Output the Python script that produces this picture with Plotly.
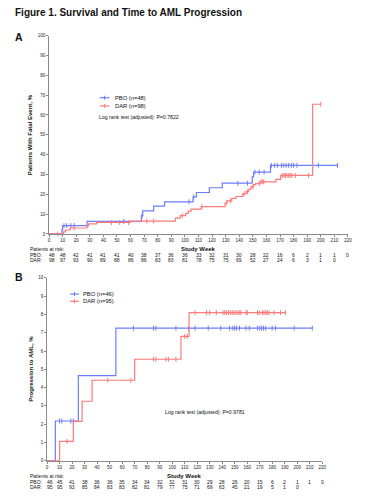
import plotly.graph_objects as go

W, H = 371, 500
FONT = "Liberation Sans"
BLUE = "#6e7cff"
RED = "#ff7a7a"
AXC = "#8a8a8a"

# ---------------- Panel A data ----------------
week_ticks = list(range(0, 221, 10))
a_pbo_event_weeks = [0, 9.5, 10, 28, 68, 69, 77, 85, 106, 108.5, 118, 127.5, 149.5, 150.5, 163]
a_pbo_event_pct = [0, 2.1, 4.2, 6.3, 9.2, 11.6, 14.0, 16.2, 18.7, 20.9, 23.3, 25.6, 28.8, 31.2, 34.6]
a_pbo_last_week = 212.3
a_pbo_censor_weeks = [11, 13, 16, 18.5, 55, 68.5, 103, 106.5, 139, 146, 151.5, 154.7, 158.3,
                      163.6, 166, 168, 171.1, 172.8, 174.5, 176.4, 178.3, 180, 182.5, 198.2, 212.3]

a_dar_event_weeks = [0, 10.5, 12, 15.5, 28, 29, 35, 60, 93, 96.5, 100.5, 102.5, 104.5, 112,
                     129.5, 131, 134.5, 137.5, 142.5, 145, 147, 148.5, 150.5, 152, 155, 167, 170.5, 194]
a_dar_event_pct = [0, 1.0, 2.0, 3.0, 4.1, 5.1, 5.8, 6.5, 8.0, 9.2, 10.4, 11.5, 12.5, 13.8,
                   15.6, 16.7, 17.9, 18.9, 20.2, 21.3, 22.5, 23.7, 24.9, 25.4, 26.3, 27.5, 29.5, 65.4]
a_dar_last_week = 200
a_dar_censor_weeks = [6.5, 18.5, 46, 52, 58.5, 72, 77, 98, 112.5, 130.5, 133.5, 143.5, 146, 150,
                      154.7, 156, 157, 158, 171.6, 172.8, 174, 175.2, 176.4, 177.6, 178.8, 181.3, 191, 200]

a_pbo_at_risk = [48, 48, 42, 41, 41, 41, 40, 38, 37, 36, 36, 33, 32, 31, 30, 28, 22, 16, 6, 2, 1, 1, 0]
a_dar_at_risk = [98, 97, 93, 90, 89, 88, 86, 86, 83, 83, 81, 78, 75, 75, 69, 52, 27, 24, 6, 3, 1, 0]

# ---------------- Panel B data ----------------
b_pbo_event_weeks = [0, 6.6, 25, 55]
b_pbo_event_pct = [0, 2.17, 4.65, 7.25]
b_pbo_last_week = 212
b_pbo_censor_weeks = [10, 11.8, 19, 21, 69, 85, 87, 103, 113, 118.3, 128.8, 138.8, 145.9, 148.5,
                      150, 151.5, 153.8, 159, 161.6, 168.2, 170, 171.5, 173, 174.7, 179.9, 182.6,
                      197.5, 212]

b_dar_event_weeks = [0, 10, 21, 28, 36, 70, 107, 113.5]
b_dar_event_pct = [0, 1.05, 2.15, 3.25, 4.4, 5.55, 6.8, 8.1]
b_dar_last_week = 190.5
b_dar_censor_weeks = [16, 48.5, 67, 85, 87, 95, 97, 103, 110, 112, 118.3, 127.5, 130, 135.3,
                      140.6, 142, 143.5, 145, 146.5, 148, 149.5, 151, 152.5, 154, 155, 159, 160.3,
                      168.2, 169.6, 172, 173.3, 174.7, 176, 177.4, 181.4, 186.6, 190.5]

b_pbo_at_risk = [46, 45, 41, 38, 36, 36, 35, 34, 34, 32, 32, 31, 30, 29, 28, 26, 20, 15, 6, 2, 1, 1, 0]
b_dar_at_risk = [95, 95, 93, 85, 84, 83, 83, 82, 81, 79, 77, 75, 71, 69, 63, 45, 21, 19, 5, 1, 0]


def step_val(ev_w, ev_p, t):
    v = 0
    for w, p in zip(ev_w, ev_p):
        if w <= t:
            v = p
    return v


def px(x):
    return x / W


def py(y):
    return 1 - y / H


fig = go.Figure()


def add_km(ev_w, ev_p, last_w, cens_w, color, xa, ya):
    fig.add_trace(go.Scatter(
        x=ev_w + [last_w], y=ev_p + [ev_p[-1]], mode="lines",
        line=dict(color=color, width=1.2, shape="hv"),
        xaxis=xa, yaxis=ya, showlegend=False, hoverinfo="skip"))
    fig.add_trace(go.Scatter(
        x=cens_w, y=[step_val(ev_w, ev_p, t) for t in cens_w], mode="markers",
        marker=dict(symbol="line-ns", size=3.5, line=dict(color=color, width=1)),
        xaxis=xa, yaxis=ya, showlegend=False, hoverinfo="skip", cliponaxis=False))


add_km(a_pbo_event_weeks, a_pbo_event_pct, a_pbo_last_week, a_pbo_censor_weeks, BLUE, "x", "y")
add_km(a_dar_event_weeks, a_dar_event_pct, a_dar_last_week, a_dar_censor_weeks, RED, "x", "y")
add_km(b_pbo_event_weeks, b_pbo_event_pct, b_pbo_last_week, b_pbo_censor_weeks, BLUE, "x2", "y2")
add_km(b_dar_event_weeks, b_dar_event_pct, b_dar_last_week, b_dar_censor_weeks, RED, "x2", "y2")

axis_common = dict(showgrid=False, zeroline=False, showline=True, linecolor=AXC, linewidth=1,
                   ticks="outside", ticklen=2, tickcolor=AXC, tickwidth=1,
                   tickfont=dict(family=FONT, size=4.5, color="#222"), tickangle=0, fixedrange=True)

fig.update_layout(
    width=W, height=H, margin=dict(l=0, r=0, t=0, b=0),
    paper_bgcolor="white", plot_bgcolor="white", showlegend=False,
    xaxis=dict(domain=[px(48.7), px(351.7)], range=[0, 220], tickvals=week_ticks, anchor="y", **axis_common),
    yaxis=dict(domain=[py(234.3), py(34)], range=[0, 100], tickvals=list(range(0, 101, 10)), anchor="x", **axis_common),
    xaxis2=dict(domain=[px(46.7), px(325.7)], range=[0, 220], tickvals=week_ticks, anchor="y2", **axis_common),
    yaxis2=dict(domain=[py(463.3), py(278.7)], range=[0, 10], tickvals=list(range(0, 11)), anchor="x2", **axis_common),
)

ann = []


def txt(x, y, s, size=5, bold=False, xanchor="left", angle=0, color="#111"):
    ann.append(dict(x=px(x), y=py(y), xref="paper", yref="paper", text=("<b>%s</b>" % s) if bold else s,
                    showarrow=False, xanchor=xanchor, yanchor="middle", textangle=angle, borderpad=0,
                    font=dict(family=FONT, size=size, color=color)))


txt(13, 11, "Figure 1. Survival and Time to AML Progression", size=10, bold=True)
txt(13, 35, "A", size=10.5, bold=True)
txt(13, 278, "B", size=10.5, bold=True)

# Panel A texts
txt(29, 134, "Patients With Fatal Event, %", size=6, bold=True, xanchor="center", angle=-90)
txt(200, 249, "Study Week", size=6, bold=True, xanchor="center")
txt(115, 96.7, "PBO (n=48)", size=5.8)
txt(115, 105, "DAR (n=98)", size=5.8)
txt(98.5, 115.7, "Log rank test (adjusted): P=0.7822", size=5.2)
txt(28, 249, "Patients at risk:", size=5)
txt(28, 255.3, "PBO:", size=5)
txt(28, 260.3, "DAR:", size=5)

# Panel B texts
txt(31, 371, "Progression to AML, %", size=6, bold=True, xanchor="center", angle=-90)
txt(186, 478.8, "Study Week", size=6, bold=True, xanchor="center")
txt(82, 295, "PBO (n=46)", size=5.8)
txt(82, 302.3, "DAR (n=95)", size=5.8)
txt(206.7, 414.3, "Log rank test (adjusted): P=0.9781", size=5.2, xanchor="center")
txt(28, 478.8, "Patients at risk:", size=5)
txt(28, 484.4, "PBO:", size=5)
txt(28, 489.4, "DAR:", size=5)


def at_risk_row(values, xref, y):
    for i, v in enumerate(values):
        ann.append(dict(x=week_ticks[i], y=py(y), xref=xref, yref="paper", text=str(v), showarrow=False,
                        xanchor="center", yanchor="middle", xshift=3 if i == 0 else 0, borderpad=0,
                        font=dict(family=FONT, size=5, color="#111")))


at_risk_row(a_pbo_at_risk, "x", 255.3)
at_risk_row(a_dar_at_risk, "x", 260.3)
at_risk_row(b_pbo_at_risk, "x2", 484.4)
at_risk_row(b_dar_at_risk, "x2", 489.4)

fig.update_layout(annotations=ann)

# Legend keys (drawn manually)
shapes = []


def key(x0, x1, y, color):
    shapes.append(dict(type="line", xref="paper", yref="paper", x0=px(x0), x1=px(x1), y0=py(y), y1=py(y),
                       line=dict(color=color, width=1.2)))
    xm = (x0 + x1) / 2
    shapes.append(dict(type="line", xref="paper", yref="paper", x0=px(xm), x1=px(xm), y0=py(y - 2), y1=py(y + 2),
                       line=dict(color=color, width=1)))


key(100, 110, 96.7, BLUE)
key(100, 110, 105, RED)
key(70, 79, 295, BLUE)
key(70, 79, 302.3, RED)
fig.update_layout(shapes=shapes)

fig.write_html("out.html", config={"displayModeBar": False},
               post_script="document.body.style.margin='0';document.body.style.padding='0';")
